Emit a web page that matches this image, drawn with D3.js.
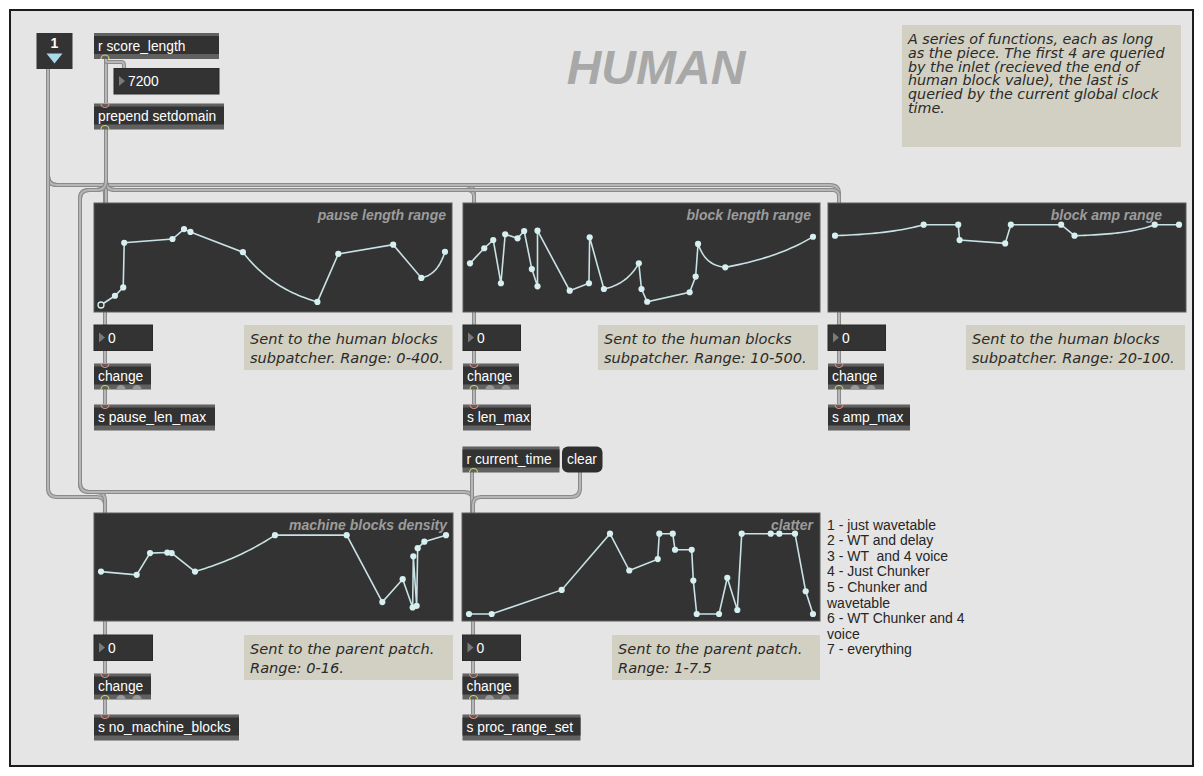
<!DOCTYPE html>
<html>
<head>
<meta charset="utf-8">
<script src="https://cdn.jsdelivr.net/npm/d3@7"></script>
<style>
  body { margin: 0; background: #fff; }
  svg text { white-space: pre; }
</style>
</head>
<body>
<svg width="1203" height="776"></svg>
<script>
// breakpoints of the five function editors (time in ms, value, curve of segment to next point)
var scoreLength = 7200;

var pauseTime = [0, 292, 465, 486, 1496, 1738, 1872, 2970, 4529, 4967, 6115, 6705, 7200];
var pauseVal = [0, 42, 80, 283, 300, 345, 332, 240, 14, 232, 274, 123, 242];
var pauseCurve = [0, 0, 0, 0, 0, 0, 0, -1.5, 0, 0, 0, 2.5];

var blockLenTime = [0, 299, 488, 649, 739, 998, 1137, 1298, 1417, 1417, 2093, 2497, 2512, 2811, 3544, 3600, 3719, 4611, 4737, 4787, 5358, 7200];
var blockLenVal = [242, 326, 372, 131, 404, 381, 422, 210, 114, 424, 90, 131, 387, 99, 242, 99, 28, 81, 168, 350, 220, 390];
var blockLenCurve = [0, 0, 0, 0, 0, 0, 0, 0, 0, 0, 0, 0, 0, 2, 0, 0, 0, 0, 0, -3, 1.2];

var ampTime = [0, 1855, 2579, 2608, 3562, 3681, 4733, 5013, 6692, 7200];
var ampVal = [83, 93, 93, 79, 76, 93, 93, 83, 93, 93];
var ampCurve = [2, 0, 0, 0, 0, 0, 0, 2.5, 0];

var densTime = [0, 745, 1023, 1384, 1475, 1962, 3631, 5127, 5871, 6296, 6504, 6518, 6588, 6609, 6748, 7200];
var densVal = [7.8, 7.2, 11.2, 11.3, 11.2, 7.8, 14.5, 14.5, 2.2, 6.4, 1.2, 10.6, 1.5, 12.1, 13.3, 14.5];
var densCurve = [0, 0, 0, 0, 0, 0.8, 0, 0, 0, 0, 0, 0, 0, 0, 0];

var clatterTime = [0, 475, 1940, 2951, 3355, 3950, 3983, 4264, 4312, 4661, 4695, 4766, 5233, 5406, 5616, 5708, 6315, 6495, 6823, 7047, 7200];
var clatterVal = [1, 1, 2.8, 7, 4.25, 5.1, 7, 7, 5.8, 5.8, 3.5, 1, 1, 3.7, 1.3, 7, 7, 7, 7, 2.7, 1];

var modeLabels = ["1 - just wavetable", "2 - WT and delay", "3 - WT  and 4 voice", "4 - Just Chunker",
  "5 - Chunker and", "wavetable", "6 - WT Chunker and 4", "voice", "7 - everything"];

var svg = d3.select("svg");
var sans = "'Liberation Sans', Arial, sans-serif";
var commentFont = "'DejaVu Sans', sans-serif";

svg.append("rect").attr("x", 10).attr("y", 10).attr("width", 1183).attr("height", 756)
  .attr("fill", "#e5e5e5").attr("stroke", "#1c1c1c").attr("stroke-width", 2);

// patch cords with rounded corners
function cordPath(pts, r) {
  var p = "M" + pts[0][0] + "," + pts[0][1];
  for (var i = 1; i < pts.length - 1; i++) {
    var a = pts[i - 1], b = pts[i], c = pts[i + 1];
    var d1 = Math.hypot(b[0] - a[0], b[1] - a[1]), d2 = Math.hypot(c[0] - b[0], c[1] - b[1]);
    var rr = Math.min(r, d1 / 2, d2 / 2);
    var s = [b[0] - (b[0] - a[0]) / d1 * rr, b[1] - (b[1] - a[1]) / d1 * rr];
    var e = [b[0] + (c[0] - b[0]) / d2 * rr, b[1] + (c[1] - b[1]) / d2 * rr];
    p += "L" + s[0] + "," + s[1] + "Q" + b[0] + "," + b[1] + " " + e[0] + "," + e[1];
  }
  var l = pts[pts.length - 1];
  return p + "L" + l[0] + "," + l[1];
}
var cords = [
  [[48, 69], [48, 185], [105, 185], [105, 203]],
  [[48, 69], [48, 185], [474, 185], [474, 203]],
  [[48, 69], [48, 185], [839, 185], [839, 203]],
  [[48, 69], [48, 497], [105, 497], [105, 513]],
  [[106, 59], [106, 103]],
  [[106, 59], [106, 62], [124, 62], [124, 68]],
  [[106, 129], [106, 203]],
  [[106, 129], [106, 190], [474, 190], [474, 203]],
  [[106, 129], [106, 190], [839, 190], [839, 203]],
  [[106, 129], [106, 190], [80, 190], [80, 492], [105, 492], [105, 513]],
  [[106, 129], [106, 190], [80, 190], [80, 492], [473, 492], [473, 513]],
  [[472, 472], [472, 513]],
  [[580, 472], [580, 497], [473, 497], [473, 513]]
];
[[105, 312], [474, 312], [839, 312]].forEach(function (c) {
  cords.push([[c[0], c[1]], [c[0], 325]], [[c[0], 350], [c[0], 363]], [[c[0], 389], [c[0], 404]]);
});
[[105, 621], [473, 621]].forEach(function (c) {
  cords.push([[c[0], c[1]], [c[0], 635]], [[c[0], 660], [c[0], 673]], [[c[0], 699], [c[0], 714]]);
});
var cordG = svg.append("g").attr("fill", "none");
cords.forEach(function (pts) {
  cordG.append("path").attr("d", cordPath(pts, 9)).attr("stroke", "#8a8a8a").attr("stroke-width", 4);
  cordG.append("path").attr("d", cordPath(pts, 9)).attr("stroke", "#b6b6b6").attr("stroke-width", 2);
});

// function editors
function curveFn(k, t) {
  if (Math.abs(k) < 1e-6) return t;
  return (Math.exp(k * t) - 1) / (Math.exp(k) - 1);
}
function drawFunction(p, times, vals, curves, vmin, vmax, hollowFirst) {
  var g = svg.append("g");
  g.append("rect").attr("x", p.x).attr("y", p.y).attr("width", p.w).attr("height", p.h)
    .attr("fill", "#333333").attr("stroke", "#5e5e5e").attr("stroke-width", 1);
  g.append("text").attr("x", p.x + p.w - (p.titlePad || 6)).attr("y", p.y + 17).attr("text-anchor", "end")
    .attr("font-family", sans).attr("font-size", 14).attr("font-weight", "bold").attr("font-style", "italic")
    .attr("fill", "#9c9c9c").text(p.title);
  var x = d3.scaleLinear().domain([0, scoreLength]).range([p.x + 7, p.x + p.w - 7]);
  var y = d3.scaleLinear().domain([vmin, vmax]).range([p.y + p.h - 7, p.y + 14]);
  var line = d3.line().x(function (d) { return x(d[0]); }).y(function (d) { return y(d[1]); });
  var pts = [];
  for (var i = 0; i < times.length - 1; i++) {
    var k = curves ? curves[i] : 0;
    var n = k ? 24 : 1;
    for (var j = 0; j < n; j++) {
      var t = j / n;
      pts.push([times[i] + (times[i + 1] - times[i]) * t, vals[i] + (vals[i + 1] - vals[i]) * curveFn(k, t)]);
    }
  }
  pts.push([times[times.length - 1], vals[vals.length - 1]]);
  g.append("path").attr("d", line(pts)).attr("fill", "none").attr("stroke", "#c9e2e4").attr("stroke-width", 1.6);
  g.selectAll("circle").data(times).enter().append("circle")
    .attr("cx", function (d) { return x(d); })
    .attr("cy", function (d, i) { return y(vals[i]); })
    .attr("r", function (d, i) { return hollowFirst && i === 0 ? 3 : 3.1; })
    .attr("fill", function (d, i) { return hollowFirst && i === 0 ? "#333" : "#d6eff1"; })
    .attr("stroke", "#d6eff1").attr("stroke-width", function (d, i) { return hollowFirst && i === 0 ? 1.3 : 0; });
}
drawFunction({x: 94, y: 203, w: 358, h: 109, title: "pause length range"}, pauseTime, pauseVal, pauseCurve, 0, 400, true);
drawFunction({x: 463, y: 203, w: 357, h: 109, title: "block length range", titlePad: 9}, blockLenTime, blockLenVal, blockLenCurve, 10, 500);
drawFunction({x: 828, y: 203, w: 358, h: 109, title: "block amp range", titlePad: 24}, ampTime, ampVal, ampCurve, 20, 100);
drawFunction({x: 94, y: 513, w: 359, h: 108, title: "machine blocks density"}, densTime, densVal, densCurve, 0, 16);
drawFunction({x: 462, y: 513, w: 358, h: 108, title: "clatter", titlePad: 7}, clatterTime, clatterVal, null, 1, 7.5);

// max objects: ins / outs say which ports are drawn
function objBox(x, y, w, label, ins, outs) {
  var g = svg.append("g");
  g.append("rect").attr("x", x).attr("y", y).attr("width", w).attr("height", 26).attr("fill", "#616161");
  g.append("rect").attr("x", x).attr("y", y + 3).attr("width", w).attr("height", 18).attr("fill", "#323232");
  if (ins) {
    g.append("path").attr("d", "M" + (x + 7) + "," + y + "a4,4 0 0,0 8,0").attr("fill", "none")
      .attr("stroke", "#e08a7e").attr("stroke-width", 1.2);
  }
  for (var i = 0; i < outs; i++) {
    var ox = x + 7 + i * 16;
    g.append("path").attr("d", "M" + ox + "," + (y + 26) + "a4,4 0 0,1 8,0")
      .attr("fill", i === 0 ? "none" : "#9a9a9a").attr("stroke", i === 0 ? "#c9d46a" : "#9a9a9a").attr("stroke-width", 1.2);
  }
  g.append("text").attr("x", x + 4).attr("y", y + 17.5).attr("font-family", sans).attr("font-size", 13.8)
    .attr("fill", "#ffffff").text(label);
}
function numBox(x, y, w, val) {
  var g = svg.append("g");
  g.append("rect").attr("x", x).attr("y", y).attr("width", w).attr("height", 25.5)
    .attr("fill", "#333333").attr("stroke", "#2a2a2a");
  g.append("path").attr("d", "M" + (x + 5) + "," + (y + 7.5) + "l6,5l-6,5z").attr("fill", "#7a7a7a");
  g.append("text").attr("x", x + 14).attr("y", y + 17.5).attr("font-family", sans).attr("font-size", 13.8)
    .attr("fill", "#ffffff").text(val);
}
function comment(x, y, w, h, lines, lh, size) {
  var g = svg.append("g");
  g.append("rect").attr("x", x).attr("y", y).attr("width", w).attr("height", h).attr("fill", "#d1d0c2");
  lines.forEach(function (l, i) {
    g.append("text").attr("x", x + 6).attr("y", y + 19.3 + i * lh).attr("font-family", commentFont)
      .attr("font-style", "italic").attr("font-size", size).attr("fill", "#2a2a2a").text(l);
  });
}

// inlet
svg.append("rect").attr("x", 36.5).attr("y", 33).attr("width", 36).attr("height", 36).attr("fill", "#333333");
svg.append("text").attr("x", 54.5).attr("y", 48).attr("text-anchor", "middle").attr("font-family", sans)
  .attr("font-size", 14).attr("font-weight", "bold").attr("fill", "#fff").text("1");
svg.append("path").attr("d", "M46.5,53.5L62.5,53.5L54.5,63.5z").attr("fill", "#a9d9ea");

objBox(94, 33, 125, "r score_length", false, 1);
numBox(114, 68.5, 105, "7200");
objBox(94, 103.5, 130, "prepend setdomain", true, 1);

svg.append("text").attr("x", 656).attr("y", 84).attr("text-anchor", "middle").attr("font-family", sans)
  .attr("font-size", 48).attr("font-weight", "bold").attr("font-style", "italic").attr("fill", "#a8a8a8").text("HUMAN");

comment(902, 25, 279, 122, ["A series of functions, each as long", "as the piece. The first 4 are queried",
  "by the inlet (recieved the end of", "human block value), the last is",
  "queried by the current global clock", "time."], 13.7, 14.3);

// columns under the editors
numBox(94, 325, 58.5, "0"); objBox(94, 363.5, 57, "change", true, 3); objBox(94, 404.5, 121, "s pause_len_max", true, 0);
numBox(463, 325, 57.5, "0"); objBox(463, 363.5, 56, "change", true, 3); objBox(463, 404.5, 68, "s len_max", true, 0);
numBox(828, 325, 57.5, "0"); objBox(828, 363.5, 56, "change", true, 3); objBox(828, 404.5, 82, "s amp_max", true, 0);
comment(244, 325, 208.5, 45, ["Sent to the human blocks", "subpatcher. Range: 0-400."], 18.4, 14.6);
comment(598, 325, 220, 45, ["Sent to the human blocks", "subpatcher. Range: 10-500."], 18.4, 14.6);
comment(966, 325, 219, 45, ["Sent to the human blocks", "subpatcher. Range: 20-100."], 18.4, 14.6);

objBox(462.5, 446.5, 97, "r current_time", false, 1);
svg.append("rect").attr("x", 562).attr("y", 446.5).attr("width", 40.5).attr("height", 26).attr("rx", 6)
  .attr("fill", "#2e2e2e");
svg.append("text").attr("x", 567).attr("y", 464).attr("font-family", sans).attr("font-size", 13.8)
  .attr("fill", "#fff").text("clear");

numBox(94, 635, 58.5, "0"); objBox(94, 673.5, 57, "change", true, 3); objBox(94, 714.5, 145, "s no_machine_blocks", true, 0);
numBox(462.5, 635, 58, "0"); objBox(462.5, 673.5, 56, "change", true, 3); objBox(462.5, 714.5, 118, "s proc_range_set", true, 0);
comment(244, 635, 209, 45, ["Sent to the parent patch.", "Range: 0-16."], 18.4, 14.6);
comment(612, 635, 208, 45, ["Sent to the parent patch.", "Range: 1-7.5"], 18.4, 14.6);

svg.selectAll(".mode").data(modeLabels).enter().append("text").attr("class", "mode")
  .attr("x", 827).attr("y", function (d, i) { return 529.5 + i * 15.6; })
  .attr("font-family", sans).attr("font-size", 14).attr("fill", "#262626")
  .text(function (d) { return d; });
</script>
</body>
</html>
